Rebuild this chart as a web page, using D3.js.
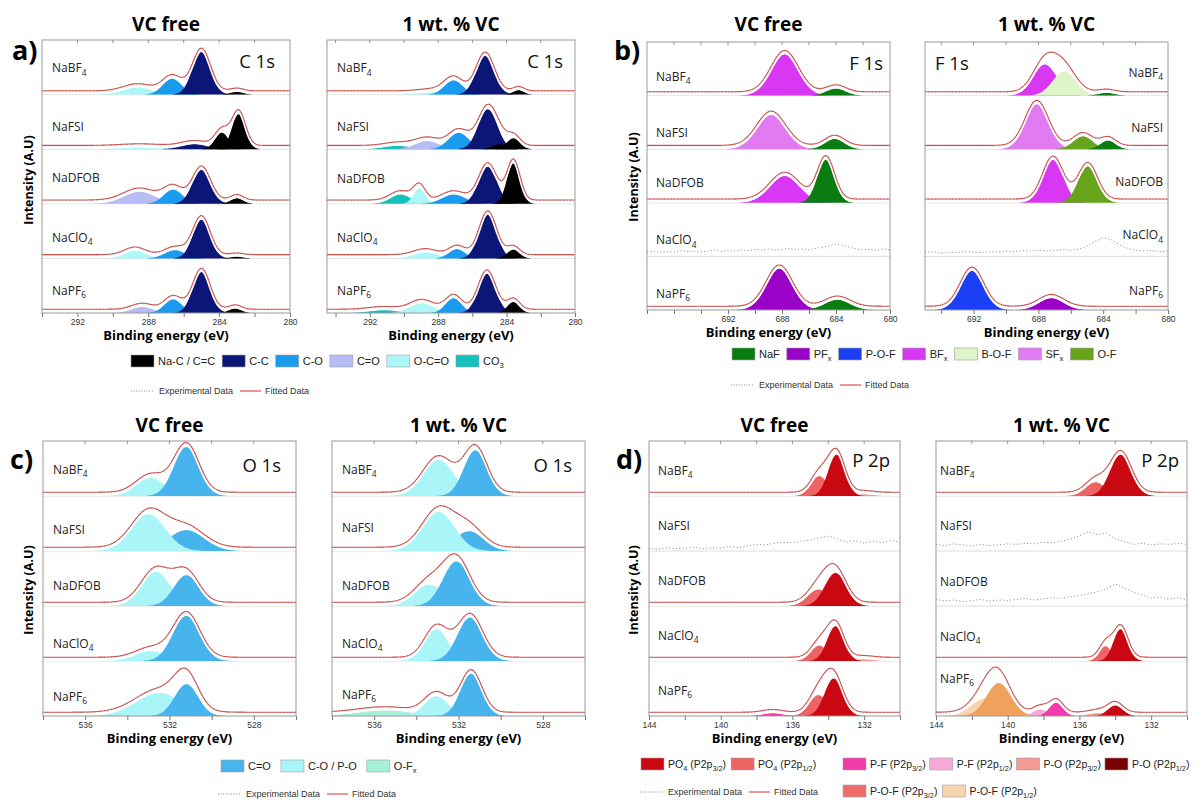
<!DOCTYPE html>
<html>
<head>
<meta charset="utf-8">
<script src="https://cdn.jsdelivr.net/npm/d3@7"></script>
<style>
  body { margin: 0; background: #fff; }
</style>
</head>
<body>
<svg id="fig" width="1203" height="802"></svg>
<script>
// ---------- data ----------
const salts = ["NaBF_{4}", "NaFSI", "NaDFOB", "NaClO_{4}", "NaPF_{6}"];
const conditions = ["VC free", "1 wt. % VC"];

// peaks: [row, component, centre (eV), height (fraction of row), FWHM (eV)]
const c1sNames = ["Na-C / C=C", "C-C", "C-O", "C=O", "O-C=O", "CO_{3}"];
const c1sColors = ["#000000", "#0b1677", "#1a9bf0", "#b8bcf4", "#adf7f9", "#16c0bd"];
const c1sTicks = [292, 288, 284, 280];
const c1sFree = [
  [0, 4, 288.6, 0.13, 1.9], [0, 2, 286.65, 0.29, 1.25], [0, 1, 285.0, 0.78, 1.2], [0, 0, 283.0, 0.05, 0.85],
  [1, 4, 288.5, 0.03, 2.5], [1, 1, 285.4, 0.09, 1.7], [1, 0, 283.85, 0.30, 0.9], [1, 0, 282.9, 0.64, 0.9],
  [2, 3, 288.5, 0.22, 2.1], [2, 2, 286.6, 0.26, 1.25], [2, 1, 285.0, 0.62, 1.2], [2, 0, 283.0, 0.10, 0.85],
  [3, 4, 288.75, 0.14, 1.4], [3, 2, 286.5, 0.15, 1.35], [3, 1, 285.0, 0.71, 1.15], [3, 0, 283.0, 0.03, 0.85],
  [4, 3, 288.35, 0.11, 1.4], [4, 2, 286.6, 0.25, 1.15], [4, 1, 285.0, 0.75, 1.15], [4, 0, 283.1, 0.08, 0.85]
];
const c1sVC = [
  [0, 4, 288.3, 0.04, 2.0], [0, 2, 287.1, 0.26, 1.25], [0, 1, 285.25, 0.71, 1.25], [0, 0, 283.3, 0.08, 0.75],
  [1, 5, 290.4, 0.06, 1.8], [1, 3, 288.65, 0.15, 1.6], [1, 2, 286.8, 0.30, 1.4], [1, 1, 285.1, 0.73, 1.3],
  [1, 0, 284.4, 0.09, 0.95], [1, 0, 283.6, 0.20, 0.9],
  [2, 5, 290.2, 0.17, 1.4], [2, 4, 289.1, 0.28, 0.8], [2, 2, 287.1, 0.17, 1.6], [2, 1, 285.1, 0.68, 1.25], [2, 0, 283.6, 0.74, 0.9],
  [3, 4, 288.75, 0.11, 1.6], [3, 2, 286.9, 0.17, 1.1], [3, 1, 285.1, 0.80, 1.2], [3, 0, 283.6, 0.16, 0.85],
  [4, 5, 291.2, 0.05, 2.0], [4, 4, 288.95, 0.18, 1.6], [4, 2, 287.1, 0.27, 1.1], [4, 1, 285.15, 0.72, 1.2], [4, 0, 283.6, 0.20, 0.85]
];

const f1sNames = ["NaF", "PF_{x}", "P-O-F", "BF_{x}", "B-O-F", "SF_{x}", "O-F"];
const f1sColors = ["#0b7c12", "#9a02c7", "#1b3ff4", "#d838f4", "#dff4c9", "#e07bf1", "#67a41b"];
const f1sTicks = [692, 688, 684, 680];
const f1sFree = [
  [0, 3, 687.8, 0.77, 2.4], [0, 0, 684.0, 0.13, 1.7],
  [1, 5, 688.8, 0.64, 2.5], [1, 0, 684.1, 0.19, 1.7],
  [2, 3, 687.8, 0.50, 2.6], [2, 0, 684.75, 0.80, 1.5],
  [4, 1, 688.2, 0.77, 2.3], [4, 0, 683.9, 0.19, 2.2]
];
const f1sVC = [
  [0, 3, 687.6, 0.58, 1.7], [0, 4, 686.4, 0.45, 1.7], [0, 0, 683.8, 0.05, 1.2],
  [1, 5, 688.1, 0.84, 1.7], [1, 6, 685.25, 0.24, 1.4], [1, 0, 683.7, 0.16, 1.1],
  [2, 3, 687.1, 0.80, 1.5], [2, 6, 684.95, 0.68, 1.4],
  [4, 2, 692.1, 0.73, 1.7], [4, 1, 687.2, 0.22, 1.8]
];
// unfitted experimental traces (evenly spaced over the panel's energy range)
const f1sFreeClO4 = [0.08, 0.10, 0.07, 0.09, 0.08, 0.11, 0.09, 0.10, 0.08, 0.10, 0.12, 0.09, 0.11, 0.10, 0.12, 0.11, 0.13, 0.12, 0.14,
  0.12, 0.13, 0.15, 0.13, 0.14, 0.12, 0.15, 0.17, 0.20, 0.23, 0.21, 0.17, 0.14, 0.12, 0.13, 0.11, 0.14, 0.12];
const f1sVCClO4 = [0.07, 0.09, 0.06, 0.08, 0.07, 0.09, 0.08, 0.07, 0.09, 0.08, 0.10, 0.09, 0.11, 0.10, 0.12, 0.10, 0.11, 0.13,
  0.11, 0.14, 0.19, 0.28, 0.35, 0.31, 0.22, 0.15, 0.12, 0.10, 0.11, 0.09, 0.10];

const o1sNames = ["C=O", "C-O / P-O", "O-F_{x}"];
const o1sColors = ["#47b4ee", "#aaf5f8", "#a5f0d6"];
const o1sTicks = [536, 532, 528];
const o1sFree = [
  [0, 1, 532.9, 0.33, 1.6], [0, 0, 531.2, 0.89, 1.4],
  [1, 0, 531.2, 0.38, 2.0], [1, 1, 533.0, 0.67, 1.9],
  [2, 1, 532.65, 0.62, 1.6], [2, 0, 531.2, 0.56, 1.4],
  [3, 1, 532.9, 0.18, 1.7], [3, 0, 531.2, 0.82, 1.5],
  [4, 1, 532.5, 0.42, 2.6], [4, 0, 531.2, 0.58, 1.3]
];
const o1sVC = [
  [0, 1, 532.95, 0.66, 1.7], [0, 0, 531.2, 0.83, 1.3],
  [1, 0, 531.5, 0.36, 1.6], [1, 1, 532.95, 0.71, 1.8],
  [2, 1, 533.4, 0.39, 1.6], [2, 0, 532.1, 0.81, 1.5],
  [3, 1, 533.05, 0.58, 1.3], [3, 0, 531.45, 0.79, 1.4],
  [4, 2, 535.5, 0.10, 3.0], [4, 1, 533.05, 0.36, 1.3], [4, 0, 531.4, 0.77, 1.2]
];

const p2pNames = ["PO_{4} (P2p_{3/2})", "PO_{4} (P2p_{1/2})", "P-F (P2p_{3/2})", "P-F (P2p_{1/2})",
  "P-O (P2p_{3/2})", "P-O (P2p_{1/2})", "P-O-F (P2p_{3/2})", "P-O-F (P2p_{1/2})"];
const p2pColors = ["#c90812", "#ee6464", "#f23ba9", "#f7aad8", "#f49a94", "#7a0000", "#f0a25d", "#f8d3b0"];
const p2pLegendColors = ["#c90812", "#ee6464", "#f23ba9", "#f7aad8", "#f49a94", "#7a0000", "#ef6a6a", "#f8d3b0"];
const p2pTicks = [144, 140, 136, 132];
const p2pFree = [
  [0, 4, 132.0, 0.03, 1.2], [0, 1, 134.5, 0.36, 1.1], [0, 0, 133.54, 0.75, 1.1],
  [2, 1, 134.55, 0.30, 1.4], [2, 0, 133.6, 0.60, 1.4],
  [3, 4, 132.0, 0.03, 1.2], [3, 1, 134.5, 0.28, 1.1], [3, 0, 133.6, 0.63, 1.1],
  [4, 2, 137.1, 0.05, 1.3], [4, 1, 134.55, 0.38, 1.2], [4, 0, 133.7, 0.68, 1.2]
];
const p2pVC = [
  [0, 1, 135.1, 0.25, 1.3], [0, 0, 133.7, 0.75, 1.4],
  [3, 1, 134.55, 0.27, 0.8], [3, 0, 133.7, 0.58, 0.95],
  [4, 7, 141.25, 0.32, 1.8], [4, 6, 140.5, 0.60, 1.6], [4, 3, 138.2, 0.12, 0.9], [4, 2, 137.3, 0.24, 0.9],
  [4, 4, 135.0, 0.05, 1.2], [4, 0, 134.0, 0.19, 1.0]
];
const p2pFreeFSI = [0.05, 0.03, 0.06, 0.04, 0.05, 0.07, 0.04, 0.06, 0.05, 0.08, 0.06, 0.09, 0.12, 0.11, 0.14, 0.16, 0.15,
  0.18, 0.20, 0.24, 0.27, 0.22, 0.16, 0.19, 0.14, 0.18, 0.15, 0.19, 0.16];
const p2pVCFSI = [0.12, 0.10, 0.13, 0.11, 0.09, 0.12, 0.10, 0.11, 0.13, 0.12, 0.14, 0.13, 0.16, 0.15, 0.18, 0.22, 0.28,
  0.35, 0.30, 0.33, 0.22, 0.17, 0.12, 0.14, 0.11, 0.13, 0.12, 0.14, 0.12];
const p2pVCDFOB = [0.12, 0.09, 0.11, 0.08, 0.10, 0.12, 0.09, 0.11, 0.10, 0.12, 0.14, 0.11, 0.13, 0.15, 0.14, 0.17, 0.19,
  0.22, 0.26, 0.31, 0.40, 0.33, 0.25, 0.20, 0.14, 0.17, 0.12, 0.15, 0.11];

// ---------- drawing ----------
const svg = d3.select("#fig");
const SANS = "'Open Sans', 'Noto Sans', sans-serif";
const ARIAL = "'Liberation Sans', Arial, sans-serif";
const FIT_RED = "#d9534f";

// "_{..}" marks a subscript
function rich(sel, str, size) {
  const parts = str.split(/(_\{[^}]*\})/).filter(s => s);
  parts.forEach((part, i) => {
    if (part.startsWith("_{")) {
      sel.append("tspan").attr("font-size", size * 0.7).attr("dy", size * 0.28).text(part.slice(2, -1));
    } else {
      const afterSub = i > 0 && parts[i - 1].startsWith("_{");
      sel.append("tspan").attr("dy", afterSub ? -size * 0.28 : null).text(part);
    }
  });
  return sel;
}

const gauss = (e, p) => p[3] * Math.exp(-4 * Math.LN2 * (e - p[2]) ** 2 / (p[4] ** 2));

function drawPanel(cfg) {
  const x = d3.scaleLinear().domain(cfg.dom).range([cfg.x0, cfg.x1]);
  const rowH = (cfg.y1 - cfg.y0) / 5;
  const clipId = `clip-${cfg.x0}-${cfg.y0}`;
  svg.append("clipPath").attr("id", clipId).append("rect")
    .attr("x", cfg.x0).attr("y", cfg.y0).attr("width", cfg.x1 - cfg.x0).attr("height", cfg.y1 - cfg.y0);
  const g = svg.append("g").attr("clip-path", `url(#${clipId})`);
  const grid = d3.range(cfg.dom[0], cfg.dom[1] - 1e-6, -0.04);

  salts.forEach((salt, r) => {
    const base = cfg.y0 + (r + 1) * rowH;
    const y = d3.scaleLinear().domain([0, 1]).range([base, base - rowH]);

    if (r < 4) {
      g.append("line").attr("x1", cfg.x0).attr("x2", cfg.x1).attr("y1", base).attr("y2", base)
        .attr("stroke", "#d6d6d6").attr("stroke-width", 0.8);
    }

    const rowPeaks = cfg.peaks.filter(p => p[0] === r);
    rowPeaks.forEach(p => {
      const area = d3.area().defined(d => d[1] > 0.004)
        .x(d => x(d[0])).y0(base).y1(d => y(d[1]));
      g.append("path").datum(grid.map(e => [e, gauss(e, p)]))
        .attr("d", area).attr("fill", cfg.colors[p[1]]);
    });

    if (rowPeaks.length) {
      const env = grid.map(e => [e, d3.sum(rowPeaks, p => gauss(e, p))]);
      const line = off => d3.line().x(d => x(d[0])).y(d => y(d[1]) - off);
      g.append("path").datum(env).attr("d", line(1.8)).attr("fill", "none")
        .attr("stroke", "#fff").attr("stroke-width", 3);
      g.append("path").datum(env).attr("d", line(3.8)).attr("fill", "none")
        .attr("stroke", FIT_RED).attr("stroke-width", 1.1);
      g.append("path").datum(env).attr("d", line(3.4)).attr("fill", "none")
        .attr("stroke", "#666").attr("stroke-width", 0.8).attr("stroke-dasharray", "0.8,2.6");
    }

    const trace = cfg.noise && cfg.noise[r];
    if (trace) {
      const step = (cfg.dom[1] - cfg.dom[0]) / (trace.length - 1);
      g.append("path").datum(trace)
        .attr("d", d3.line().x((d, i) => x(cfg.dom[0] + i * step)).y(d => y(d)))
        .attr("fill", "none").attr("stroke", "#777").attr("stroke-width", 0.9)
        .attr("stroke-dasharray", "1,2.4");
    }

    const t = svg.append("text")
      .attr("x", cfg.labelX).attr("y", base - rowH + cfg.labelFrac[r] * rowH + 4.5)
      .attr("text-anchor", cfg.labelAnchor || "start")
      .attr("font-family", SANS).attr("font-size", 12).attr("fill", "#222");
    rich(t, salt, 12);
  });

  // frame and top ticks
  svg.append("rect").attr("x", cfg.x0).attr("y", cfg.y0)
    .attr("width", cfg.x1 - cfg.x0).attr("height", cfg.y1 - cfg.y0)
    .attr("fill", "none").attr("stroke", "#9a9a9a").attr("stroke-width", 1);
  const lo = Math.ceil(Math.min(...cfg.dom) / 2) * 2;
  const ticks = d3.range(lo, Math.max(...cfg.dom) + 1e-6, 2);
  svg.append("g").selectAll("line").data(ticks.filter(d => x(d) > cfg.x0 + 1 && x(d) < cfg.x1 - 1)).join("line")
    .attr("x1", d => x(d)).attr("x2", d => x(d)).attr("y1", cfg.y0).attr("y2", cfg.y0 + 3)
    .attr("stroke", "#777").attr("stroke-width", 0.8);

  const axis = d3.axisBottom(x).tickValues(ticks).tickSize(4).tickPadding(2)
    .tickFormat(d => cfg.ticks.includes(d) ? d : "");
  const ax = svg.append("g").attr("transform", `translate(0,${cfg.y1})`).call(axis);
  ax.select(".domain").remove();
  ax.selectAll("line").attr("stroke", "#777");
  ax.selectAll("text").attr("font-family", ARIAL).attr("font-size", 8.5).attr("fill", "#333");

  svg.append("text").attr("x", (cfg.x0 + cfg.x1) / 2).attr("y", cfg.y1 + 27)
    .attr("text-anchor", "middle").attr("font-family", SANS).attr("font-weight", 700)
    .attr("font-size", 13).text("Binding energy (eV)");

  svg.append("text").attr("x", (cfg.x0 + cfg.x1) / 2).attr("y", cfg.titleY)
    .attr("text-anchor", "middle").attr("font-family", SANS).attr("font-weight", 700)
    .attr("font-size", 19).text(cfg.title);

  svg.append("text").attr("x", cfg.tagX).attr("y", cfg.y0 + cfg.tagDy)
    .attr("text-anchor", cfg.tagAnchor).attr("font-family", SANS).attr("font-size", 18.5)
    .attr("fill", "#111").text(cfg.tag);
}

const fr5 = f => [f, f, f, f, f];
const panels = [
  { x0: 42, x1: 290, y0: 40, y1: 313, dom: [294, 280], ticks: c1sTicks, peaks: c1sFree, colors: c1sColors,
    labelX: 52, labelFrac: [0.51, 0.59, 0.52, 0.61, 0.58], tag: "C 1s", tagX: 275, tagAnchor: "end", tagDy: 28,
    title: conditions[0], titleY: 31 },
  { x0: 327, x1: 575, y0: 40, y1: 313, dom: [294.5, 280], ticks: c1sTicks, peaks: c1sVC, colors: c1sColors,
    labelX: 337, labelFrac: [0.51, 0.59, 0.54, 0.61, 0.58], tag: "C 1s", tagX: 563, tagAnchor: "end", tagDy: 28,
    title: conditions[1], titleY: 31 },
  { x0: 647, x1: 890, y0: 42, y1: 310, dom: [698, 680], ticks: f1sTicks, peaks: f1sFree, colors: f1sColors,
    noise: { 3: f1sFreeClO4 },
    labelX: 656, labelFrac: [0.64, 0.68, 0.63, 0.69, 0.69], tag: "F 1s", tagX: 883, tagAnchor: "end", tagDy: 28,
    title: conditions[0], titleY: 31 },
  { x0: 925, x1: 1168, y0: 42, y1: 310, dom: [695, 680], ticks: f1sTicks, peaks: f1sVC, colors: f1sColors,
    noise: { 3: f1sVCClO4 },
    labelX: 1163, labelAnchor: "end", labelFrac: [0.56, 0.59, 0.61, 0.6, 0.63],
    tag: "F 1s", tagX: 935, tagAnchor: "start", tagDy: 28, title: conditions[1], titleY: 31 },
  { x0: 43, x1: 296, y0: 441, y1: 716, dom: [538, 526], ticks: o1sTicks, peaks: o1sFree, colors: o1sColors,
    labelX: 53, labelFrac: [0.51, 0.6, 0.62, 0.68, 0.64], tag: "O 1s", tagX: 281, tagAnchor: "end", tagDy: 31,
    title: conditions[0], titleY: 432 },
  { x0: 332, x1: 585, y0: 441, y1: 716, dom: [538, 526], ticks: o1sTicks, peaks: o1sVC, colors: o1sColors,
    labelX: 342, labelFrac: [0.51, 0.57, 0.62, 0.68, 0.6], tag: "O 1s", tagX: 572, tagAnchor: "end", tagDy: 31,
    title: conditions[1], titleY: 432 },
  { x0: 649, x1: 900, y0: 441, y1: 716, dom: [144, 130], ticks: p2pTicks, peaks: p2pFree, colors: p2pColors,
    noise: { 1: p2pFreeFSI },
    labelX: 658, labelFrac: fr5(0.53), tag: "P 2p", tagX: 890, tagAnchor: "end", tagDy: 26,
    title: conditions[0], titleY: 432 },
  { x0: 936, x1: 1187, y0: 441, y1: 716, dom: [144, 130], ticks: p2pTicks, peaks: p2pVC, colors: p2pColors,
    noise: { 1: p2pVCFSI, 2: p2pVCDFOB },
    labelX: 940, labelFrac: [0.53, 0.53, 0.56, 0.55, 0.32], tag: "P 2p", tagX: 1179, tagAnchor: "end", tagDy: 26,
    title: conditions[1], titleY: 432 }
];
panels.forEach(drawPanel);

// panel letters and y-axis titles
[["a)", 12, 60], ["b)", 614, 60], ["c)", 10, 469], ["d)", 616, 469]].forEach(([s, lx, ly]) => {
  svg.append("text").attr("x", lx).attr("y", ly).attr("font-family", SANS).attr("font-weight", 700)
    .attr("font-size", 27).text(s);
});
[[29, 180], [634, 177], [29, 590], [634, 590]].forEach(([cx, cy]) => {
  svg.append("text").attr("transform", `translate(${cx},${cy}) rotate(-90)`)
    .attr("text-anchor", "middle").attr("dy", "0.35em").attr("font-family", SANS)
    .attr("font-weight", 700).attr("font-size", 12.5).text("Intensity (A.U)");
});

// legends
function legendRow(names, colors, startX, y, gap, size = 11) {
  let cx = startX;
  names.forEach((name, i) => {
    svg.append("rect").attr("x", cx).attr("y", y - 6).attr("width", 23).attr("height", 12)
      .attr("fill", colors[i]).attr("stroke", "#a0a0a0").attr("stroke-width", 0.6);
    const t = svg.append("text").attr("x", cx + 27).attr("y", y + 4)
      .attr("font-family", ARIAL).attr("font-size", size).attr("fill", "#222");
    rich(t, name, size);
    cx += 27 + t.node().getComputedTextLength() + gap;
  });
}
function fitLegend(startX, y) {
  svg.append("line").attr("x1", startX).attr("x2", startX + 22).attr("y1", y).attr("y2", y)
    .attr("stroke", "#777").attr("stroke-width", 0.9).attr("stroke-dasharray", "1,1.6");
  const t = svg.append("text").attr("x", startX + 28).attr("y", y + 3)
    .attr("font-family", ARIAL).attr("font-size", 9).attr("fill", "#333").text("Experimental Data");
  const rx = startX + 28 + t.node().getComputedTextLength() + 7;
  svg.append("line").attr("x1", rx).attr("x2", rx + 21).attr("y1", y).attr("y2", y)
    .attr("stroke", FIT_RED).attr("stroke-width", 1.2);
  svg.append("text").attr("x", rx + 25).attr("y", y + 3)
    .attr("font-family", ARIAL).attr("font-size", 9).attr("fill", "#333").text("Fitted Data");
}

legendRow(c1sNames, c1sColors, 131, 361, 7);
fitLegend(131, 391);
legendRow(f1sNames, f1sColors, 732, 354, 7);
fitLegend(731, 385);
legendRow(o1sNames, o1sColors, 221, 766, 10);
fitLegend(218, 794);
legendRow(p2pNames.slice(0, 2), p2pLegendColors.slice(0, 2), 641, 764, 5, 10.5);
legendRow(p2pNames.slice(2, 6), p2pLegendColors.slice(2, 6), 843, 764, 4, 10.5);
legendRow(p2pNames.slice(6, 8), p2pLegendColors.slice(6, 8), 843, 791, 5, 10.5);
fitLegend(640, 792);
</script>
</body>
</html>
